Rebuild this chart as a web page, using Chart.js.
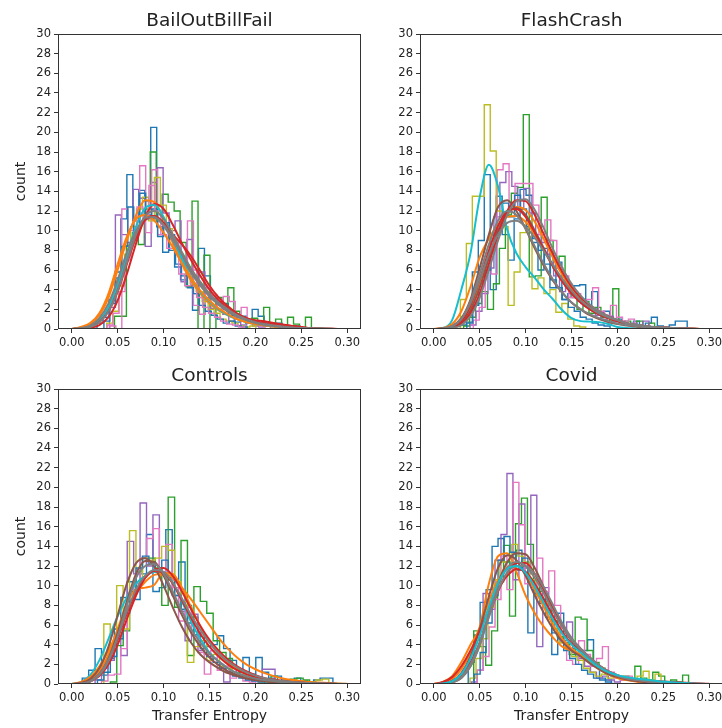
<!DOCTYPE html>
<html>
<head>
<meta charset="utf-8">
<script src="https://cdn.jsdelivr.net/npm/chart.js@4.4.1/dist/chart.umd.min.js"></script>
<style>
  html, body { margin: 0; padding: 0; background: #fff; overflow: hidden; }
  body { width: 722px; height: 728px; position: relative; }
  canvas { position: absolute; }
</style>
</head>
<body>
<canvas id="bail" width="365" height="360" style="left:0;top:0"></canvas>
<canvas id="flash" width="365" height="360" style="left:362px;top:0"></canvas>
<canvas id="ctrl" width="365" height="373" style="left:0;top:355px"></canvas>
<canvas id="covid" width="365" height="373" style="left:362px;top:355px"></canvas>
<script>
// matplotlib tab10
var tab = {
  blue: '#1f77b4', orange: '#ff7f0e', green: '#2ca02c', red: '#d62728', purple: '#9467bd',
  brown: '#8c564b', pink: '#e377c2', grey: '#7f7f7f', olive: '#bcbd22', cyan: '#17becf'
};

var xTicks = [0, 0.05, 0.10, 0.15, 0.20, 0.25, 0.30];
var yTicks = [0, 2, 4, 6, 8, 10, 12, 14, 16, 18, 20, 22, 24, 26, 28, 30];
// points where the density curves were evaluated
var kdeX = [0, 0.01, 0.02, 0.03, 0.04, 0.05, 0.06, 0.07, 0.08, 0.09, 0.10, 0.11, 0.12, 0.13, 0.14, 0.15,
  0.16, 0.17, 0.18, 0.19, 0.20, 0.21, 0.22, 0.23, 0.24, 0.25, 0.26, 0.27, 0.28, 0.29, 0.30];

// ---- BailOutBillFail ----
var bailBinWidth = 0.0065;
var bailHistStart = [0.0275, 0.0465, 0.041, 0.0415, 0.038, 0.035, 0.0385];
var bailHistColors = ['blue', 'green', 'purple', 'pink', 'olive', 'blue', 'pink'];
var bailHist = [
  [0.6,1.2,3.0,5.8,11.2,15.7,11.0,14.1,13.0,20.5,10.4,7.8,9.6,6.3,5.0,4.4,1.9,8.2,5.4,3.1,2.0,2.6,1.4,0.7,1.3,0.6,2.0,1.3,0.6,0.3,0.6,0.3,0,0.3],
  [1.3,1.3,8.5,9.8,8.6,12.2,18.0,11.0,13.7,12.9,12.0,8.8,4.3,13.0,0,7.5,0,3.2,2.3,4.2,1.8,1.2,0.6,1.1,0.5,2.2,0.6,1.0,0,1.2,0.5,0,1.2],
  [2.2,11.6,9.6,8.8,14.2,13.3,8.4,14.9,16.4,11.8,10.0,11.0,4.8,9.1,3.6,5.8,3.2,2.1,2.6,1.5,0.8,1.2,0.4,0.8,0.3,0.2,0.4],
  [0.3,0,12.2,10.0,11.0,16.6,9.8,16.2,9.6,10.4,9.1,7.6,6.5,11.0,2.4,1.5,4.2,3.4,2.0,3.3,2.8,1.0,2.2,0.6,0.4,0.3],
  [0.6,1.8,4.4,7.6,10.4,12.2,13.4,11.0,15.4,12.6,10.2,8.8,7.4,6.0,4.6,3.8,2.8,2.0,1.6,1.0,0.8,0.6,0.3,0.2,0.3],
  [0.8,2.6,5.2,8.4,12.4,10.0,13.8,11.6,12.2,9.4,10.8,8.0,6.6,5.4,4.2,3.6,2.4,1.8,1.4,1.0,0.6,0.8,0.3,0.2],
  [0.4,1.6,3.8,7.0,9.0,12.4,11.2,14.6,12.0,9.6,8.2,8.8,5.6,4.4,6.0,3.2,2.2,1.6,1.2,0.8,0.5,0.4,0.2]
];
var bailKdeColors = ['orange', 'red', 'brown', 'grey', 'cyan', 'orange', 'red', 'grey', 'grey'];
var bailKde = [
  [0,0.15,0.5,1.4,3.2,6.0,9.0,11.6,13.1,12.9,11.2,8.8,6.6,4.9,3.6,2.6,1.9,1.4,1.0,0.7,0.5,0.35,0.25,0.15,0.1,0.06,0.03,0.02,0.01,0,0],
  [0,0.02,0.1,0.4,1.2,2.9,5.6,8.7,11.4,12.7,12.2,10.6,8.7,7.0,5.4,4.0,2.9,2.1,1.5,1.1,0.9,0.8,0.6,0.45,0.3,0.2,0.1,0.05,0.02,0,0],
  [0,0.05,0.25,0.8,2.0,4.2,7.0,9.6,11.2,11.5,10.7,9.2,7.5,5.9,4.5,3.4,2.5,1.8,1.3,0.9,0.6,0.4,0.3,0.2,0.12,0.08,0.05,0.02,0.01,0,0],
  [0,0.1,0.3,0.9,2.2,4.4,7.1,9.5,11.1,11.3,10.5,9.0,7.3,5.7,4.4,3.3,2.5,1.8,1.3,0.9,0.65,0.45,0.3,0.2,0.15,0.1,0.07,0.04,0.02,0.01,0],
  [0,0.05,0.25,0.8,2.2,4.6,7.6,10.4,12.3,12.6,11.4,9.3,7.1,5.2,3.8,2.8,2.0,1.4,1.0,0.7,0.5,0.35,0.25,0.18,0.12,0.08,0.05,0.03,0.01,0,0],
  [0,0.2,0.6,1.6,3.6,6.6,9.4,11.2,11.6,11.0,9.8,8.3,6.7,5.2,3.9,2.9,2.1,1.5,1.0,0.7,0.5,0.35,0.25,0.15,0.1,0.06,0.03,0.02,0.01,0,0],
  [0,0.05,0.2,0.7,1.8,3.8,6.6,9.3,11.1,11.5,10.8,9.6,8.6,7.4,5.9,4.4,3.2,2.3,1.6,1.1,0.8,0.6,0.5,0.4,0.3,0.2,0.1,0.05,0.02,0,0],
  [0,0.05,0.2,0.7,1.8,3.9,6.8,9.6,11.5,12.0,11.2,9.6,7.8,6.1,4.6,3.4,2.5,1.8,1.3,0.9,0.6,0.4,0.3,0.2,0.12,0.08,0.05,0.03,0.01,0,0],
  [0,0.08,0.35,1.1,2.6,5.0,7.8,10.0,11.3,11.4,10.6,9.2,7.6,6.1,4.8,3.6,2.7,2.0,1.4,1.0,0.7,0.5,0.35,0.25,0.15,0.1,0.06,0.04,0.02,0.01,0]
];

// ---- FlashCrash ----
var flashBinWidth = 0.0065;
var flashHistStart = [0.029, 0.0325, 0.0395, 0.043, 0.029, 0.036];
var flashHistColors = ['blue', 'green', 'purple', 'pink', 'olive', 'blue'];
var flashHist = [
  [0.4,0.7,5.8,9.0,15.7,4.0,13.5,9.6,7.0,11.2,14.2,13.6,8.8,6.0,8.2,4.2,6.8,3.0,3.6,4.4,4.5,2.4,3.8,1.6,1.8,0.8,1.0,0.6,0.4,0.8,0.3,0.6,1.2,0.3,0.2,0.4,0.8,0.8],
  [0.3,1.2,2.6,3.8,2.0,4.6,8.2,11.6,13.8,14.4,21.8,5.3,5.4,13.4,9.0,6.2,7.4,4.4,3.2,2.0,2.8,1.6,2.2,1.2,0.8,4.1,0.6,0.8,0.5,0.8,0.3,0.6],
  [0.4,1.8,3.6,6.2,11.4,14.9,16.0,14.5,12.2,14.3,11.8,9.6,8.8,7.6,5.4,3.8,4.6,3.4,2.8,2.3,2.0,1.4,1.0,1.3,0.6,0.8,0.4,0.6,0.3,0.8],
  [0.9,2.2,7.0,5.6,16.2,16.8,12.4,14.8,14.8,14.8,12.6,9.6,11.1,9.0,6.2,5.4,3.2,3.6,2.6,3.0,4.2,1.8,1.4,2.4,1.2,0.8,1.0,0.4],
  [3.0,8.7,13.5,13.5,22.8,18.1,12.0,10.4,2.4,5.8,9.8,11.0,4.1,5.2,3.6,4.0,1.7,2.6,1.0,0.3,0.2],
  [0.6,2.4,4.8,6.0,9.6,10.2,12.8,11.4,13.6,12.2,10.4,9.2,8.0,6.6,5.0,4.2,3.0,2.2,1.8,1.2,1.0,0.6,0.4,0.3]
];
var flashKdeColors = ['cyan', 'orange', 'orange', 'brown', 'brown', 'red', 'red', 'grey', 'grey', 'grey'];
var flashKde = [
  [0,0.1,0.9,4.0,7.7,13.4,16.7,14.5,10.1,7.7,6.3,5.2,4.0,3.0,1.9,1.1,0.8,0.75,0.7,0.5,0.2,0.1,0.05,0,0,0,0,0,0,0,0],
  [0,0.1,0.5,1.8,4.3,7.3,9.2,10.6,11.4,11.5,10.9,9.6,8.0,6.4,4.9,3.7,2.8,2.1,1.6,1.2,0.9,0.6,0.4,0.3,0.2,0.15,0.1,0.05,0.03,0.01,0],
  [0,0.05,0.2,0.8,2.2,4.6,7.4,9.8,11.6,12.4,12.1,10.9,9.1,7.2,5.5,4.1,3.0,2.2,1.6,1.1,0.8,0.5,0.35,0.25,0.15,0.1,0.06,0.03,0.02,0.01,0],
  [0,0.05,0.3,1.1,3.0,6.2,9.6,12.4,13.1,12.0,10.2,8.2,6.4,4.9,3.7,2.7,2.0,1.4,1.0,0.7,0.5,0.35,0.25,0.15,0.1,0.06,0.03,0.02,0.01,0,0],
  [0,0.02,0.15,0.6,1.9,4.2,7.2,10.0,11.8,12.3,11.6,10.0,8.2,6.4,4.9,3.7,2.7,2.0,1.5,1.1,0.8,0.55,0.4,0.3,0.2,0.12,0.08,0.05,0.02,0.01,0],
  [0,0.02,0.1,0.5,1.6,3.6,6.6,9.6,12.0,13.1,13.0,11.6,9.6,7.6,5.8,4.3,3.2,2.4,1.8,1.3,0.9,0.6,0.4,0.3,0.2,0.15,0.1,0.05,0.03,0.01,0],
  [0,0.03,0.2,0.8,2.4,5.0,8.0,10.5,12.0,12.2,11.4,9.8,8.0,6.3,4.8,3.6,2.7,2.0,1.5,1.1,0.8,0.5,0.35,0.25,0.15,0.1,0.05,0.03,0.02,0.01,0],
  [0,0.01,0.1,0.4,1.3,3.2,6.0,9.0,11.6,13.0,13.2,12.1,10.2,8.1,6.2,4.6,3.4,2.5,1.8,1.3,0.9,0.6,0.4,0.3,0.2,0.12,0.08,0.05,0.02,0.01,0],
  [0,0.05,0.3,1.0,2.6,5.0,7.6,9.6,10.8,11.0,10.4,9.3,7.9,6.5,5.1,3.9,2.9,2.2,1.6,1.2,0.9,0.6,0.45,0.3,0.2,0.15,0.1,0.05,0.03,0.01,0],
  [0,0.04,0.25,1.0,2.8,5.6,8.6,11.0,12.0,11.6,10.2,8.4,6.6,5.0,3.7,2.7,2.0,1.5,1.1,0.8,0.55,0.4,0.3,0.2,0.12,0.08,0.05,0.03,0.01,0,0]
];

// ---- Controls ----
var ctrlBinWidth = 0.007;
var ctrlHistStart = [0.0114, 0.0254, 0.042, 0.0324, 0.0349, 0.028];
var ctrlHistColors = ['blue', 'purple', 'green', 'pink', 'olive', 'blue'];
var ctrlHist = [
  [0.6,1.4,3.6,0.9,2.6,5.6,8.8,10.4,8.6,11.2,15.2,9.4,9.8,15.7,10.6,12.4,8.0,6.8,5.2,3.8,4.0,4.9,3.6,2.4,1.4,2.7,1.0,2.7,1.2,0.6,0.8,0.4,0.2,0.6,0.3,0.2,0.4,0.6,0.6],
  [0.4,1.6,2.4,4.8,2.9,14.5,11.2,18.4,12.0,17.2,11.4,10.6,9.0,7.4,4.4,7.1,3.4,3.0,2.6,2.0,0.2,1.6,0.8,0.6,0.8,0.4,1.5,1.5,0.3,0.2],
  [0.2,3.9,5.4,9.6,11.4,12.8,12.8,11.8,8.0,19.0,7.8,14.6,2.9,9.9,8.4,7.2,4.4,3.2,2.6,1.6,1.2,0.8,0.4,0.6,0.2,0.8,0.3,0.2,0.5,0.6,0.4],
  [0.3,0.9,1.0,3.6,8.6,10.2,12.8,14.8,15.8,11.2,14.2,9.8,6.4,7.8,5.0,3.2,1.0,3.4,1.4,1.8,0.6,0.8,0.3,0.2],
  [6.1,3.4,10.0,5.6,15.6,10.4,12.8,12.6,12.8,14.0,13.6,10.4,8.4,2.2,3.8,4.4,2.4,3.0,1.8,1.6,1.0,0.8,0.6,0.4,0.2,0.4,0.3,0.2,0.2,0.4,0.3,0.2,0.2,0.4,0.5],
  [0.4,1.2,2.8,4.6,7.2,9.4,11.8,13.0,12.2,11.4,12.6,10.8,9.0,7.6,6.2,5.0,3.6,2.8,2.2,1.6,1.2,0.8,0.6,0.4,0.3,0.2]
];
var ctrlKdeColors = ['cyan', 'orange', 'orange', 'brown', 'brown', 'red', 'red', 'grey', 'grey'];
var ctrlKde = [
  [0,0.2,0.9,2.4,4.6,6.9,8.8,10.2,11.0,11.4,11.3,10.3,8.4,6.3,4.6,3.2,2.3,1.6,1.1,0.8,0.6,0.45,0.35,0.3,0.25,0.2,0.15,0.1,0.06,0.03,0],
  [0,0.2,0.7,1.8,3.4,5.4,7.4,9.2,10.4,11.1,11.2,10.8,9.8,8.6,7.3,6.0,4.7,3.6,2.7,2.0,1.5,1.1,0.8,0.55,0.4,0.3,0.2,0.15,0.1,0.05,0.02],
  [0,0.1,0.4,1.3,3.0,5.6,8.2,9.6,9.8,10.1,11.3,11.2,9.8,7.8,5.9,4.3,3.1,2.2,1.5,1.0,0.7,0.5,0.35,0.25,0.18,0.12,0.08,0.05,0.03,0.01,0],
  [0,0.1,0.5,1.6,3.8,7.0,10.2,12.3,12.8,11.9,10.0,7.8,5.8,4.2,3.0,2.2,1.6,1.1,0.8,0.55,0.4,0.3,0.2,0.15,0.1,0.08,0.06,0.04,0.02,0.01,0],
  [0,0.05,0.3,1.0,2.6,5.2,8.4,11.2,12.5,12.4,11.0,9.0,7.0,5.2,3.8,2.7,1.9,1.3,0.9,0.6,0.4,0.3,0.2,0.15,0.1,0.07,0.05,0.03,0.02,0.01,0],
  [0,0.05,0.25,0.8,2.0,4.0,6.6,9.0,10.8,11.6,11.8,11.0,9.4,7.6,5.9,4.5,3.4,2.5,1.8,1.3,0.9,0.6,0.45,0.3,0.2,0.15,0.1,0.06,0.03,0.01,0],
  [0,0.05,0.3,1.0,2.4,4.6,7.2,9.4,10.9,11.5,11.3,10.2,8.5,6.7,5.1,3.8,2.8,2.0,1.4,1.0,0.7,0.5,0.35,0.25,0.18,0.12,0.08,0.05,0.03,0.01,0],
  [0,0.05,0.25,0.9,2.3,4.8,8.0,10.8,12.0,12.2,11.2,9.4,7.4,5.6,4.2,3.1,2.3,1.6,1.1,0.8,0.55,0.4,0.3,0.2,0.15,0.1,0.07,0.05,0.03,0.01,0],
  [0,0.05,0.3,1.0,2.5,4.8,7.4,9.6,11.0,11.6,11.4,10.3,8.7,7.0,5.5,4.2,3.1,2.3,1.7,1.2,0.85,0.6,0.42,0.3,0.2,0.14,0.1,0.06,0.03,0.01,0]
];

// ---- Covid ----
var covidBinWidth = 0.0065;
var covidHistStart = [0.0375, 0.0435, 0.0407, 0.0472, 0.0395, 0.044];
var covidHistColors = ['blue', 'green', 'purple', 'pink', 'olive', 'blue'];
var covidHist = [
  [2.2,5.0,8.3,9.6,14.0,14.8,12.4,12.0,13.6,11.8,5.2,10.6,8.2,7.3,3.0,7.2,4.0,3.6,2.8,3.4,4.5,1.8,0.6,0.4],
  [5.4,3.8,1.9,5.4,10.4,14.1,6.9,16.3,18.9,14.2,10.6,9.4,7.6,6.4,4.8,4.2,3.0,6.8,6.6,3.4,2.2,1.6,1.0,0.8,0.6,0.8,0.4,1.8,0.6,0.4,1.2,0.8,0.2,0.4,0.2,0.9],
  [0.2,1.4,9.2,7.6,12.6,15.2,21.4,10.6,18.3,11.2,19.2,3.8,9.8,7.6,5.6,4.4,6.3,3.2,2.6,1.8,1.2,0.6,0.8,0.4,0.2,0.4,0.6,0.3],
  [1.4,2.8,5.8,8.6,13.0,9.6,20.5,16.2,10.2,9.8,12.8,9.4,11.5,8.0,4.2,2.4,2.0,4.4,3.0,1.8,2.6,3.8,1.2,0.6,0.4,0.8,0.3],
  [0.6,2.6,4.6,7.8,10.6,12.4,11.8,14.2,13.0,12.4,10.6,9.0,8.4,6.6,5.6,4.2,3.6,2.8,2.4,1.6,1.2,0.8,1.0,0.6,0.8,0.5,0.6,0.4,0.8,1.3,0.4,1.0,0.2],
  [1.0,3.2,6.2,9.0,12.6,15.0,13.4,11.6,12.8,10.4,9.2,8.6,6.8,5.2,4.6,3.4,2.6,2.0,1.4,1.0,0.6,0.4,0.2]
];
var covidKdeColors = ['orange', 'orange', 'brown', 'brown', 'red', 'red', 'grey', 'grey', 'cyan'];
var covidKde = [
  [0,0.2,0.8,2.2,4.0,5.8,10.2,13.0,13.3,11.4,9.0,7.2,5.8,4.7,3.8,3.4,3.0,2.3,1.5,1.0,0.6,0.4,0.25,0.15,0.1,0.06,0.03,0.02,0.01,0,0],
  [0,0.1,0.5,1.5,3.2,5.6,8.4,10.6,11.8,12.0,11.2,9.6,7.8,6.0,4.6,3.6,2.9,2.2,1.5,1.0,0.7,0.45,0.3,0.2,0.12,0.08,0.05,0.03,0.01,0,0],
  [0,0.02,0.15,0.6,1.8,4.0,7.2,10.2,12.4,13.3,13.2,11.8,9.8,7.6,5.8,4.4,3.4,2.6,1.8,1.2,0.8,0.5,0.35,0.25,0.15,0.1,0.06,0.03,0.02,0.01,0],
  [0,0.05,0.3,1.1,2.8,5.6,8.9,11.8,13.1,12.6,11.0,9.0,7.2,5.6,4.3,3.4,2.8,2.1,1.5,1.0,0.7,0.45,0.3,0.2,0.12,0.08,0.05,0.03,0.01,0,0],
  [0,0.05,0.3,0.9,2.2,4.2,6.9,9.4,11.3,12.3,12.3,11.2,9.5,7.6,5.9,4.6,3.6,2.7,1.9,1.3,0.9,0.6,0.45,0.35,0.3,0.25,0.2,0.15,0.1,0.05,0.02],
  [0,0.2,0.7,1.8,3.4,5.4,7.6,9.6,11.0,11.7,11.4,10.2,8.6,6.9,5.3,4.1,3.3,2.5,1.8,1.2,0.8,0.55,0.4,0.3,0.25,0.2,0.15,0.1,0.05,0.02,0],
  [0,0.03,0.2,0.7,2.0,4.2,7.2,10.0,11.8,12.4,12.0,10.8,9.2,7.4,5.8,4.5,3.5,2.6,1.8,1.2,0.8,0.55,0.4,0.3,0.2,0.15,0.1,0.06,0.03,0.01,0],
  [0,0.02,0.15,0.6,1.8,3.9,6.8,9.5,11.3,12.0,12.0,11.2,9.8,8.0,6.2,4.7,3.6,2.7,1.9,1.3,0.9,0.6,0.45,0.3,0.2,0.15,0.1,0.06,0.03,0.01,0],
  [0,0.05,0.3,1.0,2.6,4.9,7.8,10.3,11.7,12.0,11.3,9.9,8.2,6.5,5.1,4.0,3.2,2.4,1.7,1.2,0.9,0.7,0.55,0.45,0.35,0.25,0.18,0.12,0.06,0.02,0]
];

Chart.defaults.font.family = "'DejaVu Sans', sans-serif";
Chart.defaults.color = '#222';

// step outline like histtype='step'
function histDataset(start, width, counts, color) {
  var pts = [{ x: start, y: 0 }];
  counts.forEach(function (c, k) { pts.push({ x: start + k * width, y: c }); });
  pts.push({ x: start + counts.length * width, y: 0 });
  return { data: pts, stepped: true, borderColor: tab[color], borderWidth: 1.4, pointRadius: 0, fill: false };
}

function kdeDataset(values, color) {
  var pts = values.map(function (v, i) { return { x: kdeX[i], y: v }; });
  return { data: pts, borderColor: tab[color], borderWidth: 2, pointRadius: 0, fill: false,
    cubicInterpolationMode: 'monotone' };
}

var frame = {
  id: 'frame',
  afterDatasetsDraw: function (chart) {
    var a = chart.chartArea, ctx = chart.ctx;
    ctx.save();
    ctx.strokeStyle = '#333';
    ctx.lineWidth = 1;
    ctx.strokeRect(Math.round(a.left) + 0.5, Math.round(a.top) + 0.5,
      Math.round(a.right - a.left) - 1, Math.round(a.bottom - a.top) - 1);
    ctx.restore();
  }
};

function drawPanel(id, title, binWidth, starts, hists, histColors, kdes, kdeColors, leftCol, bottomRow) {
  var datasets = [];
  hists.forEach(function (h, i) { datasets.push(histDataset(starts[i], binWidth, h, histColors[i])); });
  kdes.forEach(function (k, i) { datasets.push(kdeDataset(k, kdeColors[i])); });
  datasets.reverse(); // first one ends up drawn last

  new Chart(document.getElementById(id), {
    type: 'line',
    data: { datasets: datasets },
    options: {
      responsive: false,
      animation: false,
      events: [],
      layout: { padding: { left: 0, right: 4, top: 0, bottom: 0 } },
      plugins: {
        legend: { display: false },
        tooltip: { enabled: false },
        title: {
          display: true, text: title, fullSize: false, color: '#222',
          font: { size: 18.5, weight: 'normal' },
          padding: { top: 10.4, bottom: 1.4 }
        }
      },
      scales: {
        x: {
          type: 'linear', min: -0.015, max: 0.315,
          afterBuildTicks: function (s) { s.ticks = xTicks.map(function (v) { return { value: v }; }); },
          afterFit: function (s) { s.height = bottomRow ? 44 : 31; },
          grid: { drawOnChartArea: false, tickLength: 4, color: '#333' },
          border: { display: false },
          ticks: { padding: 3, font: { size: 11.5 }, maxRotation: 0, autoSkip: false,
            callback: function (v) { return v.toFixed(2); } },
          title: { display: bottomRow, text: 'Transfer Entropy', font: { size: 14 },
            padding: { top: 0, bottom: 3.6 } }
        },
        y: {
          min: 0, max: 30,
          afterBuildTicks: function (s) { s.ticks = yTicks.map(function (v) { return { value: v }; }); },
          afterFit: function (s) { s.width = 58; },
          grid: { drawOnChartArea: false, tickLength: 4, color: '#333' },
          border: { display: false },
          ticks: { padding: 3, font: { size: 11.5 }, autoSkip: false },
          title: { display: leftCol, text: 'count', font: { size: 14 },
            padding: { top: 12.6, bottom: 0 } }
        }
      }
    },
    plugins: [frame]
  });
}

drawPanel('bail', 'BailOutBillFail', bailBinWidth, bailHistStart, bailHist, bailHistColors, bailKde, bailKdeColors, true, false);
drawPanel('flash', 'FlashCrash', flashBinWidth, flashHistStart, flashHist, flashHistColors, flashKde, flashKdeColors, false, false);
drawPanel('ctrl', 'Controls', ctrlBinWidth, ctrlHistStart, ctrlHist, ctrlHistColors, ctrlKde, ctrlKdeColors, true, true);
drawPanel('covid', 'Covid', covidBinWidth, covidHistStart, covidHist, covidHistColors, covidKde, covidKdeColors, false, true);
</script>
</body>
</html>
